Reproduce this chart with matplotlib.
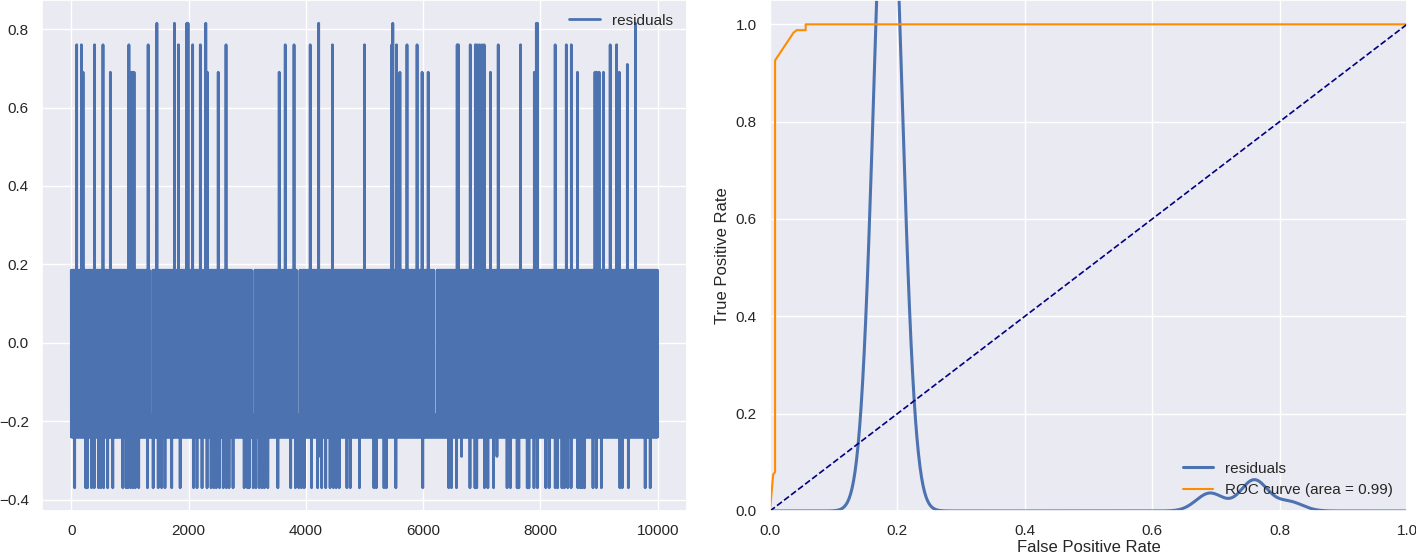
import numpy as np
import matplotlib
matplotlib.use("Agg")
import matplotlib.pyplot as plt
import seaborn as sns

# residual series
N_SAMPLES = 10000
HIGH_LEVEL = 0.185
LOW_LEVELS = [-0.185, -0.24]
HIGH_EVERY = 12                      # roughly one sample in twelve sits on the upper level
HIGH_GAPS = [630, 1340, 2250, 3080, 3850, 6190]   # short stretches with no upper samples
GAP_WIDTH = 50

SPIKE_0815 = [1459, 1758, 1970, 1990, 2293, 4218, 5482, 7930, 7950, 9620]
SPIKE_076 = [91, 172, 396, 540, 982, 1310, 1827, 2069, 2200, 2638,
             3648, 3798, 4074, 4453, 5000, 5465, 5545, 5724, 5896, 6580,
             6600, 6803, 6890, 6920, 6960, 7000, 7040, 7280, 7660, 8251,
             8441, 8527, 9189, 9298]
SPIKE_071 = [9482]
SPIKE_069 = [200, 666, 1020, 1045, 1070, 2320, 2505, 3545, 5603, 5982,
             6086, 7148, 7896, 8631, 8930, 8960, 9000, 9074, 9344]
NEG_SPIKE_037 = [57, 247, 276, 345, 391, 465, 505, 551, 620, 707,
                 879, 936, 965, 1010, 1051, 1091, 1149, 1298, 1396, 1482,
                 1540, 1597, 1712, 1856, 2085, 2143, 2229, 2315, 2384, 2430,
                 2471, 2528, 2591, 2643, 2689, 2758, 2948, 3005, 3034, 3103,
                 3148, 3206, 3252, 3293, 3350, 3522, 3741, 3821, 3879, 3924,
                 3970, 4097, 4200, 4269, 4338, 4413, 4470, 4517, 4568, 4700,
                 4758, 4913, 5160, 5200, 5332, 5372, 5534, 5993, 6436, 6482,
                 6568, 6798, 6884, 6913, 7045, 7103, 7200, 7431, 7488, 7603,
                 7631, 7775, 7803, 7890, 7948, 8091, 8148, 8252, 8293, 8367,
                 8407, 8465, 8522, 8637, 8677, 8712, 8751, 8896, 8953, 9039,
                 9355, 9396, 9499, 9786, 9872]
NEG_SPIKE_029 = [4246, 6655, 7258]

# ROC curve points
FPR = [0.0, 0.005, 0.008, 0.008, 0.037, 0.042, 0.056, 0.056, 1.0]
TPR = [0.0, 0.075, 0.08, 0.926, 0.983, 0.988, 0.988, 1.0, 1.0]
ROC_AUC = 0.99


def build_residuals():
    idx = np.arange(N_SAMPLES)
    res = np.where(idx % 2 == 0, LOW_LEVELS[0], LOW_LEVELS[1])
    high = idx % HIGH_EVERY == 0
    for g in HIGH_GAPS:
        high &= ~((idx >= g) & (idx < g + GAP_WIDTH))
    res[high] = HIGH_LEVEL
    res[SPIKE_0815] = 0.815
    res[SPIKE_076] = 0.76
    res[SPIKE_071] = 0.71
    res[SPIKE_069] = 0.69
    res[NEG_SPIKE_037] = -0.37
    res[NEG_SPIKE_029] = -0.29
    return res


def kde_curve(data, npts=1000):
    # gaussian kde, Scott's rule
    bw = data.std(ddof=1) * len(data) ** (-1 / 5)
    rng = data.max() - data.min()
    grid = np.linspace(data.min() - 0.5 * rng, data.max() + 0.5 * rng, npts)
    vals, counts = np.unique(data, return_counts=True)
    z = (grid[:, None] - vals[None, :]) / bw
    dens = (counts[None, :] * np.exp(-0.5 * z ** 2)).sum(axis=1)
    dens /= len(data) * bw * np.sqrt(2 * np.pi)
    return grid, dens


residuals = build_residuals()

sns.set_theme(style="darkgrid")
plt.rcParams['font.family'] = ['Liberation Sans', 'DejaVu Sans']
plt.rcParams['legend.frameon'] = False

fig = plt.figure(figsize=(14.16, 5.55), dpi=100)
ax1 = fig.add_axes([42 / 1416, 44 / 555, 645 / 1416, 511 / 555])
ax2 = fig.add_axes([770 / 1416, 44 / 555, 637 / 1416, 511 / 555])

ax1.plot(np.arange(N_SAMPLES), residuals, c='#4C72B0', lw=2.0, label='residuals')
ax1.legend(loc='upper right')

kx, ky = kde_curve(residuals)
ax2.plot(kx, ky, c='#4C72B0', lw=2.2, label='residuals')
ax2.plot(FPR, TPR, c='darkorange', lw=1.5, label='ROC curve (area = %0.2f)' % ROC_AUC)
ax2.plot([0, 1], [0, 1], c='navy', lw=1.2, linestyle='--')
ax2.set_xlim(0.0, 1.0)
ax2.set_ylim(0.0, 1.05)
ax2.set_xlabel('False Positive Rate', labelpad=1)
ax2.set_ylabel('True Positive Rate')
ax2.legend(loc='lower right')

fig.savefig('out.png', dpi=100)
